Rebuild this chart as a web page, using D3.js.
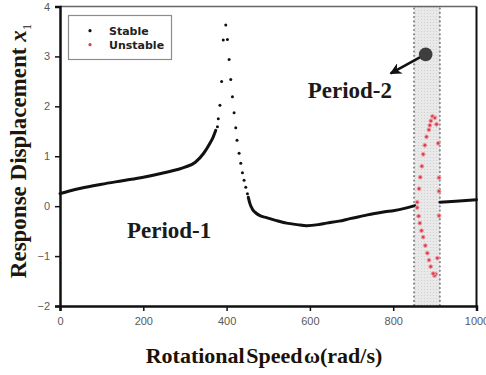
<!DOCTYPE html>
<html lang="en">
<head>
<meta charset="UTF-8">
<title>Response Displacement vs Rotational Speed</title>
<script src="https://d3js.org/d3.v7.min.js"></script>
<style>
  body { margin: 0; background: #fff; }
</style>
</head>
<body>
<div id="chart"></div>
<script>
// ---- data ----
const xTicks = [0, 200, 400, 600, 800, 1000];
const yTicks = [-2, -1, 0, 1, 2, 3, 4];

// stable period-1, dense part below the resonance
const lowOmega = [0, 25, 50, 100, 150, 200, 250, 300, 325, 345, 360, 368, 374];
const lowDisp  = [0.25, 0.31, 0.36, 0.44, 0.51, 0.58, 0.67, 0.78, 0.88, 1.06, 1.26, 1.39, 1.52];

// stable period-1, sparse dots around the peak
const peakOmega = [378, 380, 384, 388, 392, 398, 402, 406, 410, 414, 418, 422, 425, 430, 434, 438, 442, 446, 450];
const peakDisp  = [1.59, 1.75, 2.02, 2.5, 3.33, 3.63, 3.34, 2.94, 2.54, 2.19, 1.87, 1.57, 1.32, 1.06, 0.86, 0.67, 0.52, 0.38, 0.25];

// stable period-1, dense part after the resonance
const highOmega = [452, 456, 462, 468, 480, 496, 520, 544, 570, 592, 620, 640, 670, 696, 730, 752, 780, 800, 830, 852];
const highDisp  = [0.18, 0.05, -0.06, -0.12, -0.19, -0.23, -0.29, -0.34, -0.37, -0.39, -0.37, -0.34, -0.3, -0.25, -0.19, -0.15, -0.11, -0.09, -0.04, 0.01];

const tailOmega = [912, 950, 1000];
const tailDisp  = [0.08, 0.1, 0.13];

// unstable (period-2) points
const unOmega = [857.6, 862, 865, 868.8, 872, 876, 880, 885.6, 888, 890.4, 894.4, 900, 904, 908, 910, 910, 910, 906, 902, 899, 896, 890, 886, 882, 877, 872, 868, 864, 861, 857.6];
const unDisp  = [0.08, 0.35, 0.58, 0.8, 1.04, 1.22, 1.39, 1.53, 1.62, 1.71, 1.8, 1.77, 1.64, 1.26, 0.57, 0.3, -0.19, -1.04, -1.36, -1.39, -1.35, -1.21, -1.08, -0.94, -0.79, -0.62, -0.49, -0.34, -0.2, -0.03];

const band = [850, 912];

// ---- layout ----
const width = 486, height = 375;
const margin = { top: 6.5, right: 9.5, bottom: 69, left: 60 };

const svg = d3.select("#chart").append("svg")
    .attr("width", width)
    .attr("height", height);

const x = d3.scaleLinear().domain([0, 1000]).range([margin.left, width - margin.right]);
const y = d3.scaleLinear().domain([-2, 4]).range([height - margin.bottom, margin.top]);

const zip = (a, b) => a.map((v, i) => [v, b[i]]);

// stipple pattern for the band
const defs = svg.append("defs");
const pat = defs.append("pattern")
    .attr("id", "stipple")
    .attr("width", 3).attr("height", 3)
    .attr("patternUnits", "userSpaceOnUse");
pat.append("rect").attr("width", 3).attr("height", 3).attr("fill", "#e9e9e9");
pat.append("circle").attr("cx", 1.5).attr("cy", 1.5).attr("r", 0.6).attr("fill", "#cdcdcd");

defs.append("marker")
    .attr("id", "arrow")
    .attr("viewBox", "0 0 10 10")
    .attr("refX", 9).attr("refY", 5)
    .attr("markerWidth", 4.5).attr("markerHeight", 4.5)
    .attr("orient", "auto")
  .append("path")
    .attr("d", "M0,0 L10,5 L0,10 L3,5 Z")
    .attr("fill", "#111");

// band
svg.append("rect")
    .attr("x", x(band[0]))
    .attr("y", y(4))
    .attr("width", x(band[1]) - x(band[0]))
    .attr("height", y(-2) - y(4))
    .attr("fill", "url(#stipple)");

svg.selectAll(".band-edge")
    .data(band)
    .join("line")
    .attr("class", "band-edge")
    .attr("x1", d => x(d)).attr("x2", d => x(d))
    .attr("y1", y(4) + 2).attr("y2", y(-2))
    .attr("stroke", "#8a8a8a")
    .attr("stroke-width", 2.2)
    .attr("stroke-linecap", "round")
    .attr("stroke-dasharray", "0 4.3");

// frame (top + right)
svg.append("line")
    .attr("x1", x(0)).attr("x2", x(1000))
    .attr("y1", y(4)).attr("y2", y(4))
    .attr("stroke", "#666").attr("stroke-width", 1.5);
svg.append("line")
    .attr("x1", x(1000)).attr("x2", x(1000))
    .attr("y1", y(4)).attr("y2", y(-2))
    .attr("stroke", "#111").attr("stroke-width", 2);

// stable dense curves
const line = d3.line().x(d => x(d[0])).y(d => y(d[1])).curve(d3.curveMonotoneX);
[zip(lowOmega, lowDisp), zip(highOmega, highDisp), zip(tailOmega, tailDisp)].forEach(seg => {
    svg.append("path")
        .datum(seg)
        .attr("d", line)
        .attr("fill", "none")
        .attr("stroke", "#111")
        .attr("stroke-width", 3)
        .attr("stroke-linecap", "round");
});

// stable sparse dots
svg.selectAll(".peak")
    .data(zip(peakOmega, peakDisp))
    .join("circle")
    .attr("class", "peak")
    .attr("cx", d => x(d[0]))
    .attr("cy", d => y(d[1]))
    .attr("r", 1.5)
    .attr("fill", "#111");

// unstable points
svg.selectAll(".unstable")
    .data(zip(unOmega, unDisp))
    .join("circle")
    .attr("class", "unstable")
    .attr("cx", d => x(d[0]))
    .attr("cy", d => y(d[1]))
    .attr("r", 1.9)
    .attr("fill", "#d8404e")
    .attr("stroke", "#f3a0a8")
    .attr("stroke-width", 1);

// axes
const xAxis = svg.append("g")
    .attr("transform", `translate(0,${y(-2)})`)
    .call(d3.axisBottom(x).tickValues(xTicks).tickSize(5).tickPadding(6).tickFormat(d3.format("d")));
const yAxis = svg.append("g")
    .attr("transform", `translate(${x(0)},0)`)
    .call(d3.axisLeft(y).tickValues(yTicks).tickSize(5).tickPadding(5).tickFormat(d3.format("d")));

[xAxis, yAxis].forEach(g => {
    g.select(".domain").attr("stroke", "#111").attr("stroke-width", 2.5);
    g.selectAll(".tick line").attr("stroke", "#111").attr("stroke-width", 1.5);
    g.selectAll(".tick text")
        .attr("fill", "#5a5a5a")
        .style("font-family", "Liberation Sans, Arial, sans-serif")
        .style("font-size", "11px");
});

// legend
const legend = svg.append("g");
legend.append("rect")
    .attr("x", 68.5).attr("y", 15.5)
    .attr("width", 103).attr("height", 44)
    .attr("fill", "#fff")
    .attr("stroke", "#8c8c8c")
    .attr("stroke-width", 1.2);
const legendItems = ["Stable", "Unstable"];
const legendColors = ["#111", "#d8404e"];
legendItems.forEach((name, i) => {
    legend.append("circle")
        .attr("cx", 90).attr("cy", 30.7 + i * 14)
        .attr("r", 1.6)
        .attr("fill", legendColors[i]);
    legend.append("text")
        .attr("x", 109).attr("y", 34.5 + i * 14)
        .attr("fill", "#222")
        .style("font-family", "DejaVu Sans, sans-serif")
        .style("font-weight", "bold")
        .style("font-size", "11px")
        .text(name);
});

// annotation: period-2 marker + arrow
const marker = [878, 3.04];
const arrowTip = [794, 2.66];
svg.append("line")
    .attr("x1", x(marker[0]) - 4).attr("y1", y(marker[1]) + 2)
    .attr("x2", x(arrowTip[0])).attr("y2", y(arrowTip[1]))
    .attr("stroke", "#111")
    .attr("stroke-width", 2.6)
    .attr("marker-end", "url(#arrow)");
svg.append("circle")
    .attr("cx", x(marker[0])).attr("cy", y(marker[1]))
    .attr("r", 6.8)
    .attr("fill", "#3e3e3e");

const serif = "Liberation Serif, Times New Roman, serif";
svg.append("text")
    .attr("x", x(696)).attr("y", y(2.32) + 8)
    .attr("text-anchor", "middle")
    .attr("fill", "#1a1a1a")
    .style("font-family", serif).style("font-weight", "bold").style("font-size", "23px")
    .text("Period-2");
svg.append("text")
    .attr("x", x(262)).attr("y", y(-0.47) + 8)
    .attr("text-anchor", "middle")
    .attr("fill", "#1a1a1a")
    .style("font-family", serif).style("font-weight", "bold").style("font-size", "23px")
    .text("Period-1");

// axis titles
svg.append("text")
    .attr("x", 264).attr("y", 363)
    .attr("text-anchor", "middle")
    .attr("fill", "#1a1208")
    .style("font-family", serif).style("font-weight", "bold").style("font-size", "22px")
    .style("word-spacing", "-4px")
    .text("Rotational Speed ω(rad/s)");

const yTitle = svg.append("text")
    .attr("transform", `translate(26,151) rotate(-90)`)
    .attr("text-anchor", "middle")
    .attr("fill", "#21160c")
    .style("font-family", serif).style("font-weight", "bold").style("font-size", "23px");
yTitle.append("tspan").text("Response Displacement ");
yTitle.append("tspan").style("font-style", "italic").text("x");
yTitle.append("tspan").attr("dy", 5).style("font-size", "13px").style("font-weight", "normal").text("1");
</script>
</body>
</html>
